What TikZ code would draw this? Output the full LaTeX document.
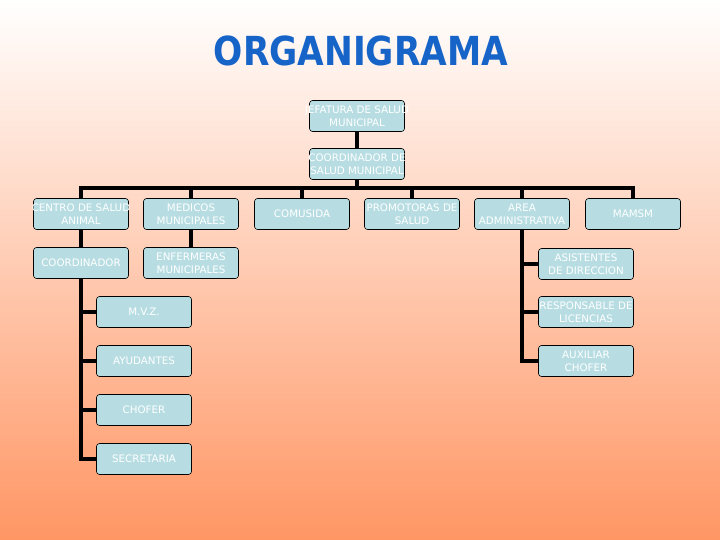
\documentclass[tikz,border=0pt]{standalone}
\usepackage{fontspec}
\setmainfont{DejaVu Sans}
\usetikzlibrary{calc,backgrounds}
\definecolor{boxblue}{RGB}{183,221,226}
\definecolor{titleblue}{RGB}{22,100,200}
\definecolor{bgorange}{RGB}{255,150,100}

% long lines keep the box at its width
\newcommand{\renglon}[1]{\makebox[93pt][c]{#1}}

\tikzset{
  cargo/.style={draw=black, line width=0.6pt, fill=boxblue, rounded corners=3pt,
    minimum width=95pt, minimum height=31pt, inner sep=0pt, align=center,
    text=white, font=\fontsize{10.3}{13}\selectfont},
  enlace/.style={line width=3.5pt, black}
}

\begin{document}
\begin{tikzpicture}[x=1pt, y=-1pt]
  \useasboundingbox (0,0) rectangle (720,540);
  \node[text=titleblue, font=\bfseries\fontsize{40}{42}\selectfont] (titulo) at (361,51) {\scalebox{0.86}[1]{ORGANIGRAMA}};

  % cargos
  \node[cargo] (jefatura) at (357,116) {\renglon{JEFATURA DE SALUD}\\MUNICIPAL};
  \node[cargo] (coordsalud) at (357,164) {\renglon{COORDINADOR DE}\\\renglon{SALUD MUNICIPAL}};
  \node[cargo] (centro) at (81,214) {\renglon{CENTRO DE SALUD}\\ANIMAL};
  \node[cargo] (medicos) at (191,214) {MEDICOS\\MUNICIPALES};
  \node[cargo] (comusida) at (302,214) {COMUSIDA};
  \node[cargo] (promotoras) at (412,214) {\renglon{PROMOTORAS DE}\\SALUD};
  \node[cargo] (area) at (522,214) {AREA\\\renglon{ADMINISTRATIVA}};
  \node[cargo] (mamsm) at (633,214) {MAMSM};
  \node[cargo] (coordinador) at (81,263) {COORDINADOR};
  \node[cargo] (enfermeras) at (191,263) {ENFERMERAS\\MUNICIPALES};
  \node[cargo] (mvz) at (144,312) {M.V.Z.};
  \node[cargo] (ayudantes) at (144,361) {AYUDANTES};
  \node[cargo] (chofer) at (144,410) {CHOFER};
  \node[cargo] (secretaria) at (144,459) {SECRETARIA};
  \node[cargo] (asistentes) at (586,264) {ASISTENTES\\DE DIRECCION};
  \node[cargo] (responsable) at (586,312) {\renglon{RESPONSABLE DE}\\LICENCIAS};
  \node[cargo] (auxiliar) at (586,361) {AUXILIAR\\CHOFER};
  \coordinate (barra) at (357,188);

  \begin{scope}[on background layer]
    \shade[top color=white, bottom color=bgorange] (0,0) rectangle (720,540);
    \draw[enlace] (jefatura) -- (coordsalud);
    \draw[enlace] (coordsalud) -- (barra);
    \draw[enlace] (centro) |- (barra) -| (mamsm);
    \foreach \n in {medicos,comusida,promotoras,area}
      \draw[enlace] (\n) -- (\n |- barra);
    \draw[enlace] (centro) -- (coordinador);
    \draw[enlace] (medicos) -- (enfermeras);
    \draw[enlace] (coordinador) |- (secretaria);
    \foreach \n in {mvz,ayudantes,chofer}
      \draw[enlace] (\n) -- (\n -| coordinador);
    \draw[enlace] (area) |- (auxiliar);
    \foreach \n in {asistentes,responsable}
      \draw[enlace] (\n) -- (\n -| area);
  \end{scope}
\end{tikzpicture}
\end{document}
